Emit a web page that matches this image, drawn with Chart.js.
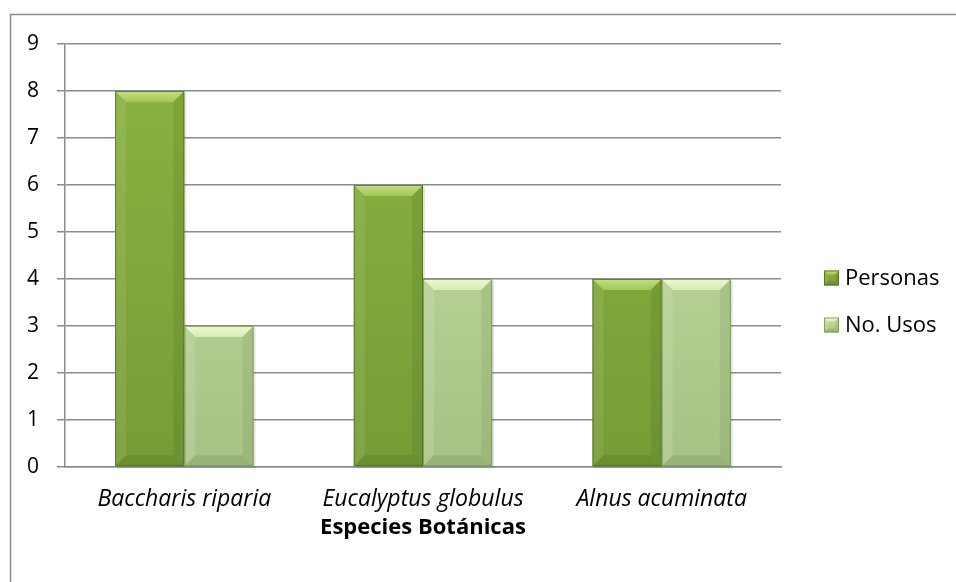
<!DOCTYPE html>
<html>
<head>
<meta charset="utf-8">
<title>Especies Botánicas</title>
<script src="https://cdn.jsdelivr.net/npm/chart.js@4/dist/chart.umd.min.js"></script>
<style>
  html, body { margin: 0; padding: 0; background: #ffffff; }
  #wrap { width: 956px; height: 582px; position: relative; }
</style>
</head>
<body>
<div id="wrap"><canvas id="chart" width="956" height="582"></canvas></div>
<script>
// ---- data ----
const categories = ['Baccharis riparia', 'Eucalyptus globulus', 'Alnus acuminata'];
const seriesNames = ['Personas', 'No. Usos'];
const personas = [8, 6, 4];
const usos = [3, 4, 4];
const yTickValues = [0, 1, 2, 3, 4, 5, 6, 7, 8, 9];
const axisTitle = 'Especies Botánicas';

// ---- look ----
const FONT = '"Open Sans", "Noto Sans", Arial, sans-serif';
const palette = [
  { top: '#8BB440', bottom: '#769C37', bevelA: '#C4E07F', bevelB: '#A1C658', left: 'rgba(255,255,255,0.08)', right: 'rgba(40,60,10,0.10)', base: 'rgba(40,60,10,0.14)', edge: 'rgba(80,105,30,0.8)' },
  { top: '#C6E0A2', bottom: '#A7C285', bevelA: '#EEF8D2', bevelB: '#D8ECB4', left: 'rgba(255,255,255,0.12)', right: 'rgba(60,80,30,0.09)', base: 'rgba(60,80,30,0.13)', edge: 'rgba(120,145,85,0.8)' }
];
const GRID = '#8c8c8c';

function bodyGradient(ctx, top, bottom, c) {
  const g = ctx.createLinearGradient(0, top, 0, bottom);
  g.addColorStop(0, c.top);
  g.addColorStop(1, c.bottom);
  return g;
}

// Soft-bevel rendering of a rectangle (used for bars and legend swatches)
function bevelRect(ctx, L, T, R, B, c, b, paintBody) {
  const h = B - T, w = R - L;
  b = Math.min(b, h / 2, w / 2);
  if (paintBody) {
    ctx.fillStyle = bodyGradient(ctx, T, B, c);
    ctx.fillRect(L, T, w, h);
  }
  // top face
  const tg = ctx.createLinearGradient(0, T, 0, T + b);
  tg.addColorStop(0, c.bevelA);
  tg.addColorStop(1, c.bevelB);
  ctx.fillStyle = tg;
  ctx.beginPath();
  ctx.moveTo(L, T); ctx.lineTo(R, T); ctx.lineTo(R - b, T + b); ctx.lineTo(L + b, T + b); ctx.closePath();
  ctx.fill();
  // left face
  ctx.fillStyle = c.left;
  ctx.beginPath();
  ctx.moveTo(L, T); ctx.lineTo(L + b, T + b); ctx.lineTo(L + b, B - b); ctx.lineTo(L, B); ctx.closePath();
  ctx.fill();
  // right face
  ctx.fillStyle = c.right;
  ctx.beginPath();
  ctx.moveTo(R, T); ctx.lineTo(R - b, T + b); ctx.lineTo(R - b, B - b); ctx.lineTo(R, B); ctx.closePath();
  ctx.fill();
  // bottom face
  ctx.fillStyle = c.base;
  ctx.beginPath();
  ctx.moveTo(L, B); ctx.lineTo(L + b, B - b); ctx.lineTo(R - b, B - b); ctx.lineTo(R, B); ctx.closePath();
  ctx.fill();
  // outline
  ctx.strokeStyle = c.edge;
  ctx.lineWidth = 1;
  ctx.strokeRect(L + 0.5, T + 0.5, w - 1, h - 1);
}

const framePlugin = {
  id: 'frame',
  beforeDraw(chart) {
    const ctx = chart.ctx;
    ctx.save();
    ctx.strokeStyle = '#8a8a8a';
    ctx.lineWidth = 1.5;
    ctx.beginPath();
    ctx.moveTo(10.5, chart.height);
    ctx.lineTo(10.5, 14.5);
    ctx.lineTo(chart.width, 14.5);
    ctx.stroke();
    ctx.restore();
  }
};

const bevelPlugin = {
  id: 'bevel',
  beforeDatasetsDraw(chart) {
    // faint drop shadow behind each bar
    const ctx = chart.ctx;
    ctx.save();
    chart.data.datasets.forEach((ds, i) => {
      chart.getDatasetMeta(i).data.forEach(el => {
        const p = el.getProps(['x', 'y', 'base', 'width'], true);
        ctx.fillStyle = 'rgba(0,0,0,0.10)';
        ctx.fillRect(p.x - p.width / 2 + 2, p.y + 2, p.width, p.base - p.y);
      });
    });
    ctx.restore();
  },
  afterDatasetsDraw(chart) {
    const ctx = chart.ctx;
    ctx.save();
    chart.data.datasets.forEach((ds, i) => {
      const c = palette[i];
      chart.getDatasetMeta(i).data.forEach(el => {
        const p = el.getProps(['x', 'y', 'base', 'width'], true);
        bevelRect(ctx, p.x - p.width / 2, p.y, p.x + p.width / 2, p.base, c, 11, false);
      });
    });
    ctx.restore();
  }
};

const legendPlugin = {
  id: 'sideLegend',
  afterDraw(chart) {
    const ctx = chart.ctx;
    const area = chart.chartArea;
    const x0 = area.right + 43;
    const yStart = 278, step = 47, box = 15;
    ctx.save();
    ctx.font = '22px ' + FONT;
    ctx.textBaseline = 'middle';
    chart.data.datasets.forEach((ds, i) => {
      const cy = yStart + i * step;
      bevelRect(ctx, x0, cy - box / 2, x0 + box, cy + box / 2, palette[i], 4, true);
      ctx.fillStyle = '#000000';
      ctx.fillText(ds.label, x0 + box + 6, cy + 1);
    });
    ctx.restore();
  }
};

const seriesValues = [personas, usos];

new Chart(document.getElementById('chart'), {
  type: 'bar',
  data: {
    labels: categories,
    datasets: seriesNames.map((name, i) => ({
      label: name,
      data: seriesValues[i],
      backgroundColor: (ctx) => {
        const area = ctx.chart.chartArea;
        if (!area) return palette[i].top;
        return bodyGradient(ctx.chart.ctx, area.top, area.bottom, palette[i]);
      },
      borderWidth: 0,
      categoryPercentage: 0.58,
      barPercentage: 1.0
    }))
  },
  options: {
    responsive: false,
    animation: false,
    devicePixelRatio: 1,
    layout: { padding: { left: 0, top: 44, right: 175, bottom: 0 } },
    plugins: {
      legend: { display: false },
      tooltip: { enabled: false }
    },
    scales: {
      x: {
        grid: { display: false, drawTicks: false },
        border: { display: true, color: GRID, width: 1.5 },
        ticks: {
          color: '#000000',
          padding: 19,
          font: { family: FONT, size: 23, style: 'italic' }
        },
        title: {
          display: true,
          text: axisTitle,
          color: '#000000',
          font: { family: FONT, size: 22, weight: 'bold' },
          padding: { top: 0, bottom: 41 }
        },
        afterFit(scale) { scale.height = 115; }
      },
      y: {
        min: 0,
        max: 9,
        afterBuildTicks(scale) { scale.ticks = yTickValues.map(v => ({ value: v })); },
        grid: { color: GRID, lineWidth: 1.5, drawTicks: true, tickLength: 8, tickColor: GRID },
        border: { display: true, color: GRID, width: 1.5 },
        ticks: {
          color: '#000000',
          padding: 18,
          font: { family: FONT, size: 21 }
        },
        afterFit(scale) { scale.width = 65; }
      }
    }
  },
  plugins: [framePlugin, bevelPlugin, legendPlugin]
});
</script>
</body>
</html>
